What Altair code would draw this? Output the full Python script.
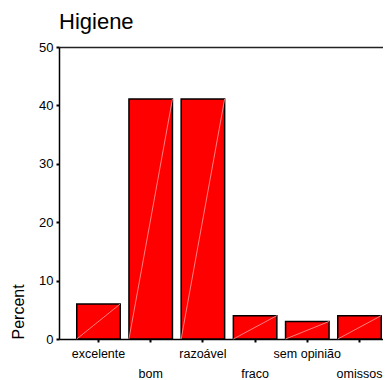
import altair as alt
import pandas as pd

categories = ["excelente", "bom", "razoável", "fraco", "sem opinião", "omissos"]
percent = [6.0, 41.1, 41.1, 4.0, 3.0, 4.0]
lower_row = ["bom", "fraco", "omissos"]

df = pd.DataFrame({"cat": categories, "pct": percent})
FONT = "Liberation Sans"

label_expr = (
    "indexof(" + str(lower_row).replace('"', "'") + ", datum.value) >= 0 ? ['', datum.label] : datum.label"
)

xscale = alt.Scale(paddingInner=0.167, paddingOuter=0.34, range=[0, 340])

x_enc = alt.X(
    "cat:N",
    sort=None,
    scale=xscale,
    axis=alt.Axis(
        title=None,
        labelAngle=0,
        labelFont=FONT,
        labelFontSize=12.5,
        labelColor="black",
        labelPadding=5,
        labelLineHeight=20,
        labelBaseline="top",
        labelExpr=label_expr,
        labelOverlap=False,
        tickSize=3,
        tickWidth=2,
        tickColor="black",
        domainColor="black",
        domainWidth=1.5,
    ),
)

y_enc = alt.Y(
    "pct:Q",
    scale=alt.Scale(domain=[0, 50], nice=False),
    axis=alt.Axis(
        title="Percent",
        values=[0, 10, 20, 30, 40, 50],
        grid=False,
        titleAnchor="start",
        titleFont=FONT,
        titleFontSize=16,
        titleFontWeight="normal",
        titleColor="black",
        titlePadding=12,
        labelFont=FONT,
        labelFontSize=13,
        labelColor="black",
        labelPadding=3,
        tickSize=3,
        tickWidth=2,
        tickColor="black",
        domainColor="black",
        domainWidth=1.5,
    ),
)

bars = alt.Chart(df).mark_bar(color="#ff0000", stroke="black", strokeWidth=1.5).encode(
    x=x_enc, y=y_enc
)

diag = (
    alt.Chart(df)
    .transform_calculate(zero="0")
    .mark_rule(color="#ffa0a0", strokeWidth=0.8)
    .encode(
        x=alt.X(
            "cat:N",
            sort=None,
            bandPosition=0,
            axis=alt.Axis(
                orient="top",
                title=None,
                labels=False,
                ticks=False,
                domain=True,
                domainColor="#222222",
                domainWidth=1.5,
            ),
        ),
        x2=alt.X2("cat:N", bandPosition=1),
        y=alt.Y("zero:Q"),
        y2=alt.Y2("pct"),
    )
)

chart = (
    alt.layer(bars, diag)
    .resolve_axis(x="independent")
    .properties(
        width=324,
        height=292,
        autosize=alt.AutoSizeParams(type="none"),
        padding={"left": 51, "top": 39, "right": 0, "bottom": 41},
        title=alt.TitleParams(
            "Higiene",
            anchor="start",
            frame="group",
            font=FONT,
            fontSize=22,
            fontWeight="normal",
            color="black",
            offset=3,
            dy=13,
            baseline="alphabetic",
        ),
    )
    .configure_view(strokeWidth=0)
    .configure(background="white")
)

chart.save("out.html", embed_options={"renderer": "svg", "actions": False})
